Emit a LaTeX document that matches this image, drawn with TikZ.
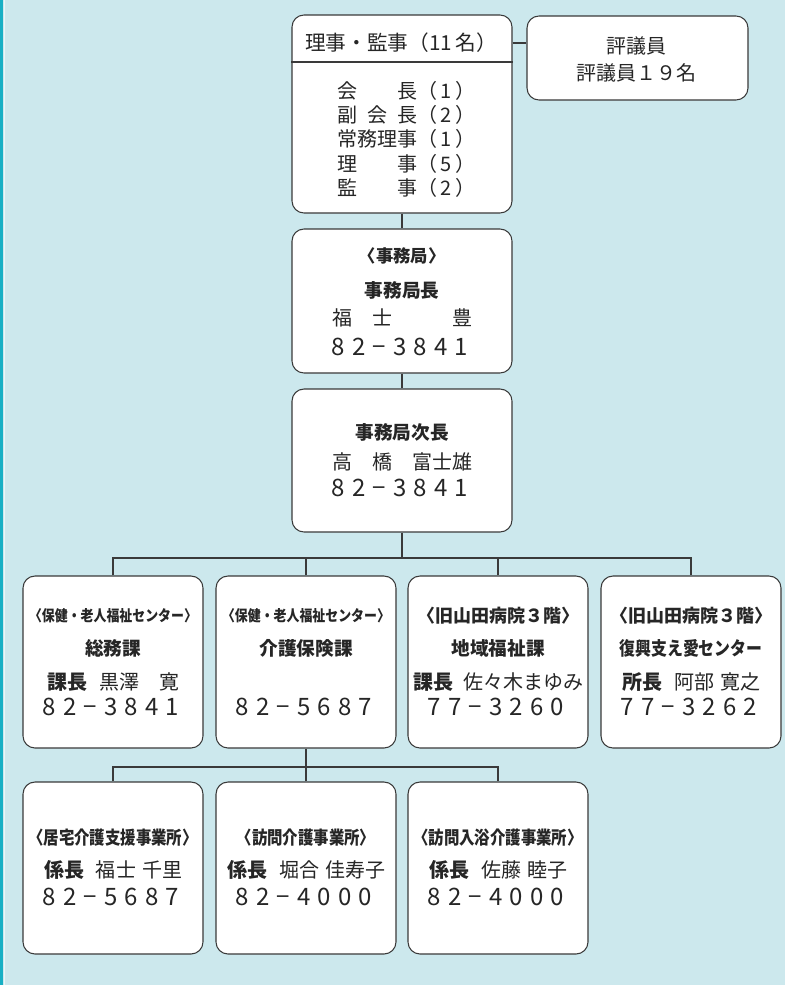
\documentclass[tikz,border=0pt]{standalone}
\usepackage{fontspec}
\newfontfamily\jp{Noto Sans CJK JP}
\newfontfamily\jpc[FakeStretch=0.85]{Noto Sans CJK JP}
\newfontfamily\jpn[LetterSpace=30]{Noto Sans CJK JP}
\definecolor{bgc}{HTML}{CCE8ED}
\definecolor{stripec}{HTML}{17AFC4}
\definecolor{linec}{HTML}{3A3A3A}
\definecolor{txtc}{HTML}{262626}
\tikzset{
  wbox/.style={draw=linec, fill=white, rounded corners=9pt, line width=0.8pt, inner sep=0pt},
  bsize/.style 2 args={minimum width=#1*0.75pt, minimum height=#2*0.75pt},
  conn/.style={draw=linec, line width=0.8pt},
  t/.style={text=txtc, inner sep=0pt, anchor=center},
  nm/.style={t, font=\jp\fontsize{15}{18}\selectfont},
  num/.style={t, font=\jpn\fontsize{18}{20}\selectfont},
  lab/.style={t, font=\jp\bfseries\fontsize{14}{17}\selectfont},
  labc/.style={t, font=\jpc\bfseries\fontsize{14}{17}\selectfont},
  hdr/.style={t, font=\jpc\bfseries\fontsize{11.4}{14}\selectfont},
  hdrb/.style={t, font=\jpc\bfseries\fontsize{13.6}{16}\selectfont},
  hdrw/.style={t, font=\jp\bfseries\fontsize{13.5}{16}\selectfont},
}
\newcommand\wk[1]{\textbf{#1}}
\newcommand\tel[2]{#1−#2}
\begin{document}
\begin{tikzpicture}[x=0.75pt, y=-0.75pt]
\useasboundingbox (0,0) rectangle (785,985);
\fill[bgc] (0,0) rectangle (785,985);
\fill[stripec] (0,0) rectangle (3.2,985);
\draw[white, opacity=0.6, line width=0.5pt] (4.3,0) -- (4.3,985);

% boxes
\node[wbox, bsize={220}{198}] (riji) at (402,114) {};
\node[wbox, bsize={221}{84}] (hyogi) at (637.5,58) {};
\node[wbox, bsize={220}{144}] (jimu) at (402,301) {};
\node[wbox, bsize={220}{143}] (jicho) at (402,460.5) {};
\node[wbox, bsize={180}{172}] (b1) at (113,662) {};
\node[wbox, bsize={180}{172}] (b2) at (306,662) {};
\node[wbox, bsize={180}{172}] (b3) at (498,662) {};
\node[wbox, bsize={180}{172}] (b4) at (691,662) {};
\node[wbox, bsize={180}{172}] (c1) at (113,868) {};
\node[wbox, bsize={180}{172}] (c2) at (306,868) {};
\node[wbox, bsize={180}{172}] (c3) at (498,868) {};

% top box
\node[t, font=\jp\fontsize{15.5}{18}\selectfont] (hd) at (401,43) {理事・監事（11\,名）};
\draw[conn] (riji.west |- 0,62) -- (riji.east |- 0,62);
\node[nm, anchor=west] (r1) at (337,91) {\makebox[4em][s]{会\hfill 長}（\,1\,）};
\node[nm, anchor=west] (r2) at (337,115) {\makebox[4em][s]{副\hfill 会\hfill 長}（\,2\,）};
\node[nm, anchor=west] (r3) at (337,139) {\makebox[4em][s]{常務理事}（\,1\,）};
\node[nm, anchor=west] (r4) at (337,164) {\makebox[4em][s]{理\hfill 事}（\,5\,）};
\node[nm, anchor=west] (r5) at (337,188) {\makebox[4em][s]{監\hfill 事}（\,2\,）};

% hyogi
\node[nm] (h1) at (636,46) {評議員};
\node[nm] (h2) at (636,73) {評議員１９名};

% jimu
\node[t, font=\jp\bfseries\fontsize{13}{15}\selectfont] (j1) at (402,256) {〈事務局〉};
\node[lab] (j2) at (402,290) {事務局長};
\node[nm] (j3) at (402,318) {福　士　　　豊};
\node[num] (j4) at (400,347) {\tel{82}{3841}};

% jicho
\node[lab] (k1) at (402,432) {事務局次長};
\node[nm] (k2) at (402,462) {高　橋　富士雄};
\node[num] (k3) at (400,488) {\tel{82}{3841}};

% row 2
\node[hdr] (b1a) at (113,616) {〈保健・老人福祉センター〉};
\node[lab] (b1b) at (113,648) {総務課};
\node[nm] (b1c) at (113,682) {\wk{課長}\hspace{0.6em}黒澤　寛};
\node[num] (b1d) at (111,707) {\tel{82}{3841}};

\node[hdr] (b2a) at (306,616) {〈保健・老人福祉センター〉};
\node[lab] (b2b) at (306,648) {介護保険課};
\node[num] (b2d) at (304,707) {\tel{82}{5687}};

\node[hdrw] (b3a) at (498,616) {〈旧山田病院３階〉};
\node[lab] (b3b) at (498,648) {地域福祉課};
\node[nm] (b3c) at (498,682) {\wk{課長}\hspace{0.5em}佐々木まゆみ};
\node[num] (b3d) at (496,707) {\tel{77}{3260}};

\node[hdrw] (b4a) at (691,616) {〈旧山田病院３階〉};
\node[labc] (b4b) at (691,648) {復興支え愛センター};
\node[nm] (b4c) at (691,682) {\wk{所長}\hspace{0.6em}阿部\hspace{0.3em}寛之};
\node[num] (b4d) at (689,707) {\tel{77}{3262}};

% row 3
\node[hdrb] (c1a) at (113,838) {〈居宅介護支援事業所〉};
\node[nm] (c1c) at (113,870) {\wk{係長}\hspace{0.6em}福士\hspace{0.3em}千里};
\node[num] (c1d) at (111,897) {\tel{82}{5687}};

\node[hdrb] (c2a) at (306,838) {〈訪問介護事業所〉};
\node[nm] (c2c) at (306,870) {\wk{係長}\hspace{0.6em}堀合\hspace{0.3em}佳寿子};
\node[num] (c2d) at (304,897) {\tel{82}{4000}};

\node[hdrb] (c3a) at (498,838) {〈訪問入浴介護事業所〉};
\node[nm] (c3c) at (498,870) {\wk{係長}\hspace{0.6em}佐藤\hspace{0.3em}睦子};
\node[num] (c3d) at (496,897) {\tel{82}{4000}};

% connectors
\draw[conn] (riji.east |- hd) -- (hyogi.west |- hd);
\draw[conn] (riji.south) -- (jimu.north);
\draw[conn] (jimu.south) -- (jicho.north);
\coordinate (bus1) at (402,558);
\draw[conn] (jicho.south) -- (bus1);
\draw[conn] (b1.north) |- (bus1) -| (b4.north);
\draw[conn] (b2.north) -- (b2.north |- bus1);
\draw[conn] (b3.north) -- (b3.north |- bus1);
\coordinate (bus2) at (306,767);
\draw[conn] (b2.south) -- (bus2);
\draw[conn] (c1.north) |- (bus2) -| (c3.north);
\draw[conn] (c2.north) -- (bus2);
\end{tikzpicture}
\end{document}
